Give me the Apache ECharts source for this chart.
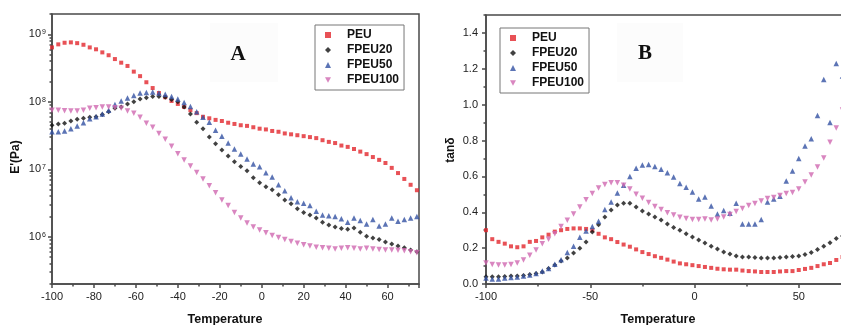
<!DOCTYPE html>
<html><head><meta charset="utf-8">
<script src="https://cdn.jsdelivr.net/npm/echarts@6/dist/echarts.min.js"></script>
<style>html,body{margin:0;padding:0;background:#fff}#c{width:841px;height:325px}</style>
</head><body><div id="c"></div>
<script>
// Temperatures (°C) shared by all series
const temps = [-100,-97,-94,-91,-88,-85,-82,-79,-76,-73,-70,-67,-64,-61,-58,-55,-52,-49,-46,-43,-40,-37,-34,-31,-28,-25,-22,-19,-16,-13,-10,-7,-4,-1,2,5,8,11,14,17,20,23,26,29,32,35,38,41,44,47,50,53,56,59,62,65,68,71,74];

// Panel A: storage modulus E' (Pa)
const modPEU = [6.4e8,7.1e8,7.5e8,7.6e8,7.4e8,7.0e8,6.4e8,6.0e8,5.4e8,4.9e8,4.3e8,3.8e8,3.4e8,2.8e8,2.4e8,1.95e8,1.6e8,1.35e8,1.17e8,1.03e8,9.3e7,8.4e7,7.5e7,6.8e7,6.0e7,5.7e7,5.4e7,5.2e7,4.9e7,4.7e7,4.5e7,4.4e7,4.2e7,4.0e7,3.9e7,3.7e7,3.6e7,3.4e7,3.3e7,3.2e7,3.1e7,3.0e7,2.9e7,2.7e7,2.55e7,2.45e7,2.25e7,2.15e7,2.0e7,1.83e7,1.68e7,1.52e7,1.38e7,1.24e7,1.05e7,8.8e6,7.2e6,5.9e6,4.9e6];
const modFPEU20 = [4.5e7,4.7e7,4.8e7,5.2e7,5.5e7,5.7e7,5.9e7,6.0e7,6.5e7,7.1e7,8.0e7,8.4e7,9.3e7,1.0e8,1.1e8,1.15e8,1.2e8,1.2e8,1.17e8,1.08e8,1.0e8,8.4e7,6.6e7,5.0e7,4.0e7,3.0e7,2.4e7,1.94e7,1.57e7,1.29e7,1.1e7,9.5e6,7.5e6,6.3e6,5.5e6,5.0e6,4.2e6,3.5e6,3.1e6,2.6e6,2.3e6,2.1e6,1.9e6,1.65e6,1.5e6,1.4e6,1.33e6,1.3e6,1.35e6,1.17e6,1.02e6,9.6e5,9.1e5,8.4e5,7.8e5,7.3e5,6.9e5,6.4e5,6.0e5];
const modFPEU50 = [3.6e7,3.6e7,3.7e7,4.0e7,4.4e7,4.9e7,5.6e7,6.0e7,6.6e7,7.5e7,9.1e7,1.03e8,1.14e8,1.24e8,1.35e8,1.38e8,1.4e8,1.35e8,1.3e8,1.2e8,1.1e8,9.8e7,8.5e7,7.1e7,5.9e7,5.0e7,3.8e7,3.1e7,2.45e7,2.0e7,1.68e7,1.42e7,1.2e7,1.09e7,8.9e6,7.7e6,5.9e6,4.8e6,3.8e6,3.3e6,3.15e6,2.9e6,2.4e6,2.1e6,2.05e6,2.0e6,1.85e6,1.65e6,1.9e6,1.75e6,1.55e6,1.8e6,1.45e6,1.55e6,1.9e6,1.7e6,1.8e6,1.9e6,2.0e6];
const modFPEU100 = [7.5e7,7.5e7,7.4e7,7.3e7,7.3e7,7.5e7,8.0e7,8.2e7,8.4e7,8.4e7,8.2e7,8.0e7,7.3e7,6.8e7,5.9e7,4.8e7,4.2e7,3.4e7,2.8e7,2.2e7,1.7e7,1.38e7,1.12e7,9.0e6,7.2e6,5.7e6,4.5e6,3.5e6,2.9e6,2.3e6,1.9e6,1.6e6,1.4e6,1.26e6,1.15e6,1.05e6,9.8e5,9.1e5,8.5e5,8.0e5,7.6e5,7.3e5,7.0e5,6.9e5,6.8e5,6.6e5,6.8e5,6.9e5,6.8e5,6.6e5,6.8e5,6.6e5,6.5e5,6.4e5,6.4e5,6.3e5,6.2e5,6.0e5,5.8e5];

// Panel B: tan delta
const tanPEU = [0.30,0.25,0.235,0.225,0.21,0.205,0.21,0.235,0.24,0.26,0.275,0.292,0.30,0.307,0.31,0.31,0.307,0.30,0.28,0.26,0.25,0.234,0.22,0.208,0.193,0.178,0.167,0.155,0.146,0.136,0.125,0.115,0.11,0.105,0.10,0.095,0.09,0.085,0.082,0.08,0.08,0.075,0.072,0.07,0.067,0.067,0.067,0.07,0.072,0.072,0.078,0.084,0.09,0.10,0.11,0.117,0.134,0.15,0.16];
const tanFPEU20 = [0.04,0.04,0.04,0.042,0.045,0.045,0.047,0.053,0.059,0.067,0.086,0.106,0.128,0.145,0.173,0.20,0.234,0.29,0.33,0.374,0.413,0.44,0.45,0.45,0.43,0.407,0.39,0.374,0.357,0.335,0.315,0.30,0.28,0.262,0.245,0.228,0.21,0.195,0.178,0.167,0.156,0.15,0.15,0.148,0.145,0.145,0.145,0.148,0.15,0.153,0.156,0.165,0.176,0.192,0.21,0.23,0.254,0.268,0.285];
const tanFPEU50 = [0.033,0.028,0.028,0.033,0.036,0.039,0.045,0.05,0.059,0.073,0.086,0.11,0.135,0.175,0.21,0.26,0.295,0.32,0.35,0.415,0.457,0.507,0.55,0.60,0.645,0.664,0.666,0.655,0.64,0.62,0.597,0.56,0.54,0.513,0.474,0.485,0.435,0.39,0.41,0.395,0.45,0.335,0.335,0.335,0.36,0.457,0.474,0.49,0.574,0.63,0.70,0.77,0.81,0.94,1.14,0.90,1.23,1.16,1.10];
const tanFPEU100 = [0.117,0.109,0.106,0.106,0.109,0.117,0.134,0.16,0.19,0.225,0.25,0.28,0.32,0.355,0.39,0.43,0.47,0.505,0.535,0.555,0.565,0.565,0.55,0.53,0.50,0.478,0.455,0.432,0.415,0.398,0.385,0.372,0.365,0.36,0.36,0.362,0.357,0.363,0.374,0.388,0.404,0.421,0.438,0.449,0.463,0.477,0.482,0.494,0.505,0.51,0.53,0.569,0.608,0.653,0.703,0.79,0.87,0.97,1.05];

const names = ['PEU','FPEU20','FPEU50','FPEU100'];
const xTicksA = [-100,-80,-60,-40,-20,0,20,40,60];
const xTicksB = [-100,-50,0,50];

const colors = ['#e2262c','#111111','#3351a3','#d068b0'];
const symbols = ['rect','diamond','triangle','triangle'];
const rotates = [0,0,0,180];
const sizes = [4,5,5.5,5.5];
const legendIcons = ['rect','diamond','triangle','path://M0,0L10,0L5,9Z'];

const FONT = '"Liberation Sans", Arial, sans-serif';
const axisColor = '#4a4a4a';

const pair = arr => temps.map((t,i)=>[t,arr[i]]);
const modSets = [modPEU,modFPEU20,modFPEU50,modFPEU100];
const tanSets = [tanPEU,tanFPEU20,tanFPEU50,tanFPEU100];

const series = [];
names.forEach((n,k)=>{
  series.push({name:n,type:'scatter',xAxisIndex:0,yAxisIndex:0,data:pair(modSets[k]),
    symbol:symbols[k],symbolRotate:rotates[k],symbolSize:sizes[k],
    itemStyle:{color:colors[k]},emphasis:{disabled:true}});
});
names.forEach((n,k)=>{
  series.push({name:n,type:'scatter',xAxisIndex:2,yAxisIndex:2,data:pair(tanSets[k]),
    symbol:symbols[k],symbolRotate:rotates[k],symbolSize:sizes[k],
    itemStyle:{color:colors[k]},emphasis:{disabled:true}});
});

// minor tick positions (decoration only)
const logMin = Math.log10(2e5), logMax = Math.log10(2e9);
const logMinor = [];
for (let k=5;k<=9;k++) for (let m=2;m<=9;m++){ const v=Math.log10(m*Math.pow(10,k)); if(v>=logMin-1e-9 && v<=logMax+1e-9) logMinor.push(v); }
const xMinorA = [-90,-70,-50,-30,-10,10,30,50,70];
const yMinorB = [0.1,0.3,0.5,0.7,0.9,1.1,1.3,1.5];

const lineSt = {color:axisColor,width:1.5};
const labelSt = {fontSize:11,color:'#222',fontFamily:FONT};
const lineOn = {show:true,onZero:false,lineStyle:lineSt};
const lineOff = {show:false,onZero:false};

const legendData = names.map((n,k)=>({name:n,icon:legendIcons[k]}));
const legendBase = {data:legendData,orient:'vertical',padding:[4,5,4,10],itemGap:3,itemWidth:6,itemHeight:6,
  borderColor:'#777',borderWidth:1,backgroundColor:'#fff',selectedMode:false,symbolRotate:0,
  textStyle:{fontSize:12,fontWeight:'bold',color:'#111',fontFamily:FONT,padding:[0,0,0,11]}};

const option = {
  animation:false,
  backgroundColor:'#fff',
  grid:[
    {left:52,top:14,width:367,height:270,show:true,borderColor:axisColor,borderWidth:1.5,containLabel:false,outerBoundsMode:'none'},
    {left:486,top:15,width:417,height:269,show:true,borderColor:axisColor,borderWidth:1.5,containLabel:false,outerBoundsMode:'none'}
  ],
  xAxis:[
    {gridIndex:0,type:'value',min:-100,max:75,interval:20,position:'bottom',
      axisLine:lineOn,axisTick:{show:true,length:4,lineStyle:lineSt},
      axisLabel:Object.assign({margin:7,customValues:xTicksA},labelSt),splitLine:{show:false}},
    {gridIndex:0,type:'value',min:-100,max:75,position:'bottom',
      axisLine:lineOff,axisTick:{show:true,length:2.5,customValues:xMinorA,lineStyle:lineSt},
      axisLabel:{show:false},splitLine:{show:false}},
    {gridIndex:1,type:'value',min:-100,max:100,interval:50,position:'bottom',
      axisLine:lineOn,axisTick:{show:true,length:4,lineStyle:lineSt},
      minorTick:{show:true,splitNumber:2,length:2.5,lineStyle:lineSt},
      axisLabel:Object.assign({margin:7,customValues:xTicksB},labelSt),splitLine:{show:false}}
  ],
  yAxis:[
    {gridIndex:0,type:'log',logBase:10,min:2e5,max:2e9,position:'left',
      axisLine:lineOn,axisTick:{show:true,length:4,lineStyle:lineSt},
      axisLabel:{margin:6,showMinLabel:false,showMaxLabel:false,
        formatter:v=>'{b|10}{s|'+Math.round(Math.log10(v))+'}',
        rich:{b:{fontSize:11,color:'#222',fontFamily:FONT},s:{fontSize:7,color:'#222',fontFamily:FONT,verticalAlign:'top',padding:[0,0,0,1]}}},
      splitLine:{show:false}},
    {gridIndex:0,type:'value',min:logMin,max:logMax,position:'left',
      axisLine:lineOff,axisTick:{show:true,length:2.5,customValues:logMinor,lineStyle:lineSt},
      axisLabel:{show:false},splitLine:{show:false}},
    {gridIndex:1,type:'value',min:0,max:1.5,interval:0.2,position:'left',
      axisLine:lineOn,axisTick:{show:true,length:4,lineStyle:lineSt},
      axisLabel:Object.assign({margin:8,showMaxLabel:false,formatter:v=>v.toFixed(1)},labelSt),splitLine:{show:false}},
    {gridIndex:1,type:'value',min:0,max:1.5,position:'left',
      axisLine:lineOff,axisTick:{show:true,length:2.5,customValues:yMinorB,lineStyle:lineSt},
      axisLabel:{show:false},splitLine:{show:false}}
  ],
  legend:[
    Object.assign({left:315,top:25},legendBase),
    Object.assign({left:500,top:28},legendBase)
  ],
  graphic:[
    {type:'rect',shape:{x:210,y:23,width:68,height:59},style:{fill:'#fcfcfc'},z:-1,silent:true},
    {type:'rect',shape:{x:617,y:23,width:66,height:59},style:{fill:'#fcfcfc'},z:-1,silent:true},
    {type:'text',x:238,y:55,style:{text:'A',font:'bold 21px "Liberation Serif", "Times New Roman", serif',fill:'#111',align:'center',verticalAlign:'middle'},z:5},
    {type:'text',x:645,y:54,style:{text:'B',font:'bold 21px "Liberation Serif", "Times New Roman", serif',fill:'#111',align:'center',verticalAlign:'middle'},z:5},
    {type:'text',x:16,y:157,rotation:Math.PI/2,style:{text:"E'(Pa)",font:'bold 12px '+FONT,fill:'#111',align:'center',verticalAlign:'middle'},z:5},
    {type:'text',x:451,y:150,rotation:Math.PI/2,style:{text:'tanδ',font:'bold 12px '+FONT,fill:'#111',align:'center',verticalAlign:'middle'},z:5},
    {type:'text',x:225,y:320,style:{text:'Temperature',font:'bold 12.5px '+FONT,fill:'#111',align:'center',verticalAlign:'middle'},z:5},
    {type:'text',x:658,y:320,style:{text:'Temperature',font:'bold 12.5px '+FONT,fill:'#111',align:'center',verticalAlign:'middle'},z:5}
  ],
  series:series
};
const chart = echarts.init(document.getElementById('c'),null,{renderer:'canvas'});
chart.setOption(option);
</script></body></html>
